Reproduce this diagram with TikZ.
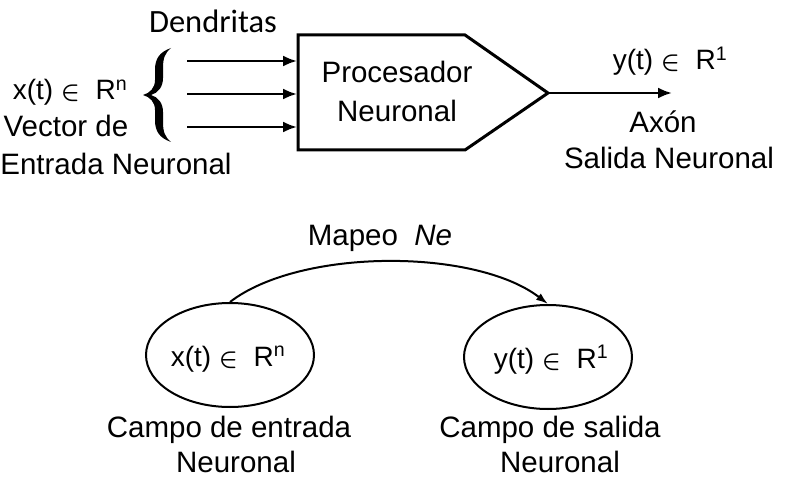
\documentclass[tikz,border=0pt]{standalone}
\usepackage{fontspec}
\setmainfont{Liberation Sans}
\newfontfamily\calibrifont{Carlito}
\usetikzlibrary{arrows.meta,decorations.pathreplacing,shapes.geometric}
\usepackage{amsmath}
\newcommand\myin{~{\fontsize{24}{24}\selectfont$\boldsymbol{\in}$}~~}
\begin{document}
\begin{tikzpicture}[x=1pt,y=-1pt,
 txt/.style={font=\fontsize{29.5}{34}\selectfont, inner sep=0pt, anchor=base},
 mth/.style={font=\fontsize{28}{32}\selectfont, inner sep=0pt, anchor=base},
 boxline/.style={line width=3pt, line join=miter},
 arr/.style={line width=2.5pt,-{Latex[length=14pt,width=11pt]}},
 ell/.style={draw, ellipse, line width=2pt, minimum width=168pt, minimum height=104pt, inner sep=0pt}]
\useasboundingbox (0,0) rectangle (795,484);
% top diagram
\node[font=\calibrifont\fontsize{32.5}{36}\selectfont, inner sep=0pt, anchor=base] (dend) at (213,33) {Dendritas};
\coordinate (brtop) at (171,48);
\coordinate (brtip) at (143,95);
\coordinate (brbot) at (171,142);
\fill (brtop) .. controls (160,52) and (155,58) .. (155,70) -- (155,80)
  .. controls (155,88) and (150,93) .. (brtip)
  .. controls (150,97) and (155,102) .. (155,110) -- (155,120)
  .. controls (155,132) and (160,138) .. (brbot)
  .. controls (165,137) and (163,132) .. (163,122) -- (163,112)
  .. controls (163,103) and (158,97) .. (151,95)
  .. controls (158,93) and (163,87) .. (163,78) -- (163,68)
  .. controls (163,58) and (165,53) .. (brtop) -- cycle;
\node[mth] (xin) at (70,100) {x(t)\myin R\textsuperscript{n}};
\node[txt] (vec) at (66,137) {Vector de};
\node[txt] (ent) at (116,175) {Entrada Neuronal};
\coordinate (b1) at (298,35);
\coordinate (b2) at (465,35);
\coordinate (tip) at (548,93);
\coordinate (b3) at (465,150);
\coordinate (b4) at (298,150);
\draw[boxline] (b1) -- (b2) -- (tip) -- (b3) -- (b4) -- cycle;
\node[txt] (proc1) at (397,83) {Procesador};
\node[txt] (proc2) at (397,122) {Neuronal};
\coordinate (s1) at (187,61); \coordinate (e1) at (297,61);
\coordinate (s2) at (187,94); \coordinate (e2) at (297,94);
\coordinate (s3) at (187,127); \coordinate (e3) at (297,127);
\draw[arr] (s1) -- (e1);
\draw[arr] (s2) -- (e2);
\draw[arr] (s3) -- (e3);
\coordinate (outend) at (672,93);
\draw[arr] (tip) -- (outend);
\node[mth] (yout) at (670,70) {y(t)\myin R\textsuperscript{1}};
\node[txt] (axon) at (663,132) {Axón};
\node[txt] (sal) at (669,168) {Salida Neuronal};
% bottom diagram
\node[ell] (ea) at (230,355) {};
\node[ell] (eb) at (548,357) {};
\node[mth] (xa) at (228,366) {x(t)\myin R\textsuperscript{n}};
\node[mth] (yb) at (551,368) {y(t)\myin R\textsuperscript{1}};
\draw[line width=2pt,-{Latex[length=12pt,width=8pt]}] (ea.north) .. controls (300,248) and (475,248) .. (eb.north);
\node[txt] (map) at (380,245) {Mapeo~~\textit{Ne}};
\node[txt] (ca1) at (229,437) {Campo de entrada};
\node[txt] (ca2) at (236,472) {Neuronal};
\node[txt] (cb1) at (550,437) {Campo de salida};
\node[txt] (cb2) at (560,472) {Neuronal};
\end{tikzpicture}
\end{document}
